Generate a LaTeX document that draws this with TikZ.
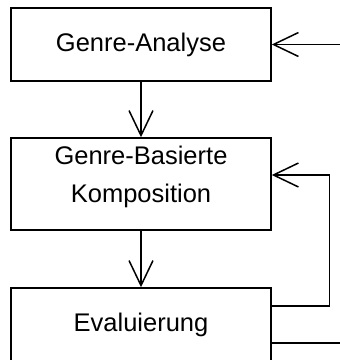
\documentclass[tikz,border=0pt]{standalone}
\usepackage{fontspec}
\setmainfont{Liberation Sans}
\usetikzlibrary{arrows.meta}
\begin{document}
\begin{tikzpicture}[x=1pt, y=-1pt,
  txt/.style={font=\fontsize{25.5}{38}\selectfont, inner sep=0pt},
  box/.style={txt, draw, line width=1.5pt, minimum width=260pt},
  flow/.style={line width=1.5pt, -{Straight Barb[length=25pt, width=24pt, line width=1.5pt]}},
  link/.style={line width=1.5pt}]
\useasboundingbox (0,0) rectangle (340,360);

% process stages
\node[box, minimum height=73pt] (ana) at (141,44.5) {Genre-Analyse};
\node[box, minimum height=92pt] (komp) at (141,184) {};
\node[txt, align=center] (kompt) at (141,177.4) {Genre-Basierte\\Komposition};
\node[box, minimum height=73pt] (eval) at (141,324.5) {Evaluierung};

% loose ends on the right
\coordinate (inA) at (340,44.5);
\coordinate (outE) at (340,343);

% main flow
\draw[flow] (inA) -- (ana.east);
\draw[flow] (ana) -- (komp);
\draw[flow] (komp) -- (eval);

% feedback loop from evaluation back to composition
\draw[flow] ([yshift=18.5pt]eval.east) -- ++(58,0) |- ([yshift=9pt]komp.east);

% output line
\draw[link] ([yshift=-18.5pt]eval.east) -- (outE);
\end{tikzpicture}
\end{document}
